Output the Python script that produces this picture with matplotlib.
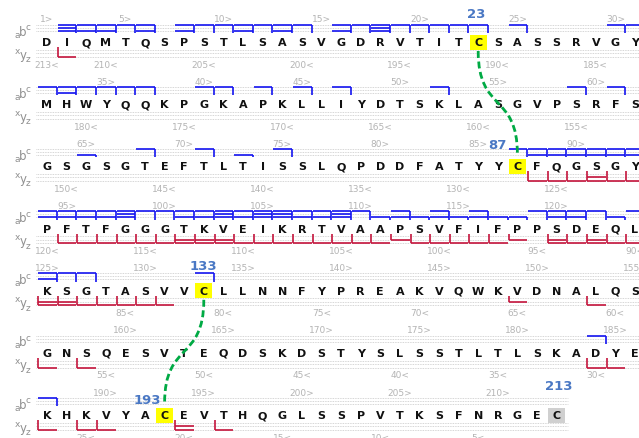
"""Sequence coverage map of a light chain, fragment ions and disulfide links."""
import matplotlib.pyplot as plt
from matplotlib.patches import Rectangle, PathPatch
from matplotlib.path import Path

SEQUENCE = ("DIQMTQSPSTLSASVGDRVTITCSASSRVGY"
            "MHWYQQKPGKAPKLLIYDTSKLASGVPSRFS"
            "GSGSGTEFTLTISSLQPDDFATYYCFQGSGY"
            "PFTFGGGTKVEIKRTVAAPSVFIFPPSDEQL"
            "KSGTASVVCLLNNFYPREAKVQWKVDNALQS"
            "GNSQESVTEQDSKDSTYSLSSTLTLSKADYE"
            "KHKVYACEVTHQGLSSPVTKSFNRGEC")
PER_ROW = 31

# N-terminal ions, by the residue where the fragment ends
C_IONS = [2, 3, 4, 5, 6, 8, 9, 10, 11, 12, 13, 14, 16, 17, 18, 19, 20, 21, 22, 23, 25, 30, 31,
          32, 33, 34, 35, 36, 37, 40, 41, 43, 45, 47, 52, 59, 61,
          68, 71, 75, 87, 88, 89, 90, 91, 92, 93,
          94, 95, 96, 97, 98, 99, 100, 101, 102, 103, 104, 105, 106, 107, 108, 109, 110,
          112, 114, 116, 119, 120, 121, 122, 124,
          125, 126, 127, 133, 184, 187]
B_IONS = [2, 18, 98, 103, 105, 106, 109]
A_IONS = [2, 3, 4, 6, 8, 11, 13, 16, 18, 33, 65, 73, 88, 89, 90, 91, 92, 93,
          94, 95, 96, 97, 98, 101, 102, 103, 104, 105, 106, 107, 108, 109, 111, 112, 113,
          114, 115, 116, 117, 118, 120, 121, 123, 125]
# C-terminal ions, by the residue where the fragment starts
X_IONS = []
Y_IONS = [91, 101, 102, 103, 112, 118, 120, 122, 125, 126, 149, 194]
Z_IONS = [2, 88, 89, 90, 91, 92, 93, 95, 96, 97, 98, 99, 100, 101, 102, 103, 104, 105,
          106, 107, 108, 109, 110, 111, 113, 114, 115, 116, 117, 120, 121, 122, 123, 124,
          125, 126, 127, 128, 129, 130, 131, 153, 156, 158, 184, 185,
          187, 189, 190, 194, 196]

DISULFIDES = [(23, 87), (133, 193)]
LINKED_CYS = [23, 87, 133, 193]
FREE_CYS = [213]

X0, DX, Y0, DY = 47, 19.6, 43, 62.2
N_LEVEL = {"c": -17.5, "b": -14.5, "a": -11.5}
C_LEVEL = {"x": 7.5, "y": 11.0, "z": 14.5}
BLUE, RED, GREEN = "#1414f0", "#c4143c", "#00aa44"
LABEL_BLUE, GREY = "#4a78c4", "#b4b4b4"
LABEL_OFFSET = {23: (-2, -29), 87: (-20, -22), 133: (0, -25), 193: (-17, -16), 213: (2, -30)}


def pos(i):
    k = i - 1
    return X0 + (k % PER_ROW) * DX, Y0 + (k // PER_ROW) * DY


def main():
    fig = plt.figure(figsize=(6.39, 4.39), dpi=100)
    ax = fig.add_axes([0, 0, 1, 1])
    ax.set_xlim(0, 639); ax.set_ylim(439, 0); ax.axis("off")
    n = len(SEQUENCE)
    n_rows = (n + PER_ROW - 1) // PER_ROW

    for r in range(n_rows):
        y = Y0 + r * DY
        last = min(PER_ROW, n - r * PER_ROW)
        x_end = min(639, X0 + (last - 0.5) * DX + 2)
        for lv in list(N_LEVEL.values()) + list(C_LEVEL.values()):
            ax.plot([36, x_end], [y + lv, y + lv], color="#c8c8c8", lw=0.6,
                    ls=(0, (1, 1)), zorder=1)
        ax.text(17, y - 8, "a", color="#909090", fontsize=6.5, ha="center", va="center")
        ax.text(23, y - 11, "b", color="#909090", fontsize=8.5, ha="center", va="center")
        ax.text(28.5, y - 15.5, "c", color="#909090", fontsize=6.5, ha="center", va="center")
        ax.text(17, y + 8, "x", color="#909090", fontsize=6.5, ha="center", va="center")
        ax.text(23, y + 12, "y", color="#909090", fontsize=8.5, ha="center", va="center")
        ax.text(28.5, y + 16.5, "z", color="#909090", fontsize=6.5, ha="center", va="center")

    for i, aa in enumerate(SEQUENCE, start=1):
        x, y = pos(i)
        if i in LINKED_CYS or i in FREE_CYS:
            ax.add_patch(Rectangle((x - 8.5, y - 7.5), 17, 15, zorder=2,
                                   facecolor="#ffff00" if i in LINKED_CYS else "#d0d0d0",
                                   edgecolor="none"))
        ax.text(x, y, aa, ha="center", va="center", fontsize=8,
                fontweight="bold", color="#111111", zorder=3)
        if (i % 5 == 0 or i == 1) and i not in FREE_CYS:
            ax.text(x, y - 23, f"{i}>", ha="center", va="center", fontsize=6.5, color=GREY)
        if (n + 1 - i) % 5 == 0 or i == 1:
            ax.text(x, y + 22, f"{n + 1 - i}<", ha="center", va="center",
                    fontsize=6.5, color=GREY)

    ion_sets = {"c": C_IONS, "b": B_IONS, "a": A_IONS}
    for i in range(1, n + 1):
        levels = [N_LEVEL[k] for k, v in ion_sets.items() if i in v]
        if not levels:
            continue
        x, y = pos(i)
        left, right = x - DX / 2 + 1, x + DX / 2
        for lv in levels:
            ax.plot([left, right], [y + lv, y + lv], color=BLUE, lw=1.2,
                    solid_capstyle="butt", zorder=4)
        ax.plot([right, right], [y + min(levels), y - 9], color=BLUE, lw=1.2,
                solid_capstyle="butt", zorder=4)

    ion_sets = {"x": X_IONS, "y": Y_IONS, "z": Z_IONS}
    for i in range(1, n + 1):
        levels = [C_LEVEL[k] for k, v in ion_sets.items() if i in v]
        if not levels:
            continue
        x, y = pos(i)
        left, right = x - DX / 2 + 1, x + DX / 2
        for lv in levels:
            ax.plot([left, right], [y + lv, y + lv], color=RED, lw=1.2,
                    solid_capstyle="butt", zorder=4)
        ax.plot([left, left], [y + 5, y + max(levels)], color=RED, lw=1.2,
                solid_capstyle="butt", zorder=4)

    for a, b in DISULFIDES:
        xa, ya = pos(a)
        xb, yb = pos(b)
        ys, ye = ya + 9, yb - 12
        h = ye - ys
        path = Path([(xa, ys), (xa, ys + 0.6 * h), (xb, ys + 0.4 * h), (xb, ye)],
                    [Path.MOVETO, Path.CURVE4, Path.CURVE4, Path.CURVE4])
        ax.add_patch(PathPatch(path, facecolor="none", edgecolor=GREEN, lw=2.0,
                               ls=(0, (2.5, 1.3)), zorder=5))

    for i in LINKED_CYS + FREE_CYS:
        x, y = pos(i)
        dx, dy = LABEL_OFFSET[i]
        ax.text(x + dx, y + dy, str(i), ha="center", va="center", fontsize=9.5,
                fontweight="bold", color=LABEL_BLUE, zorder=6)

    fig.savefig("out.png", dpi=100)


if __name__ == "__main__":
    main()
